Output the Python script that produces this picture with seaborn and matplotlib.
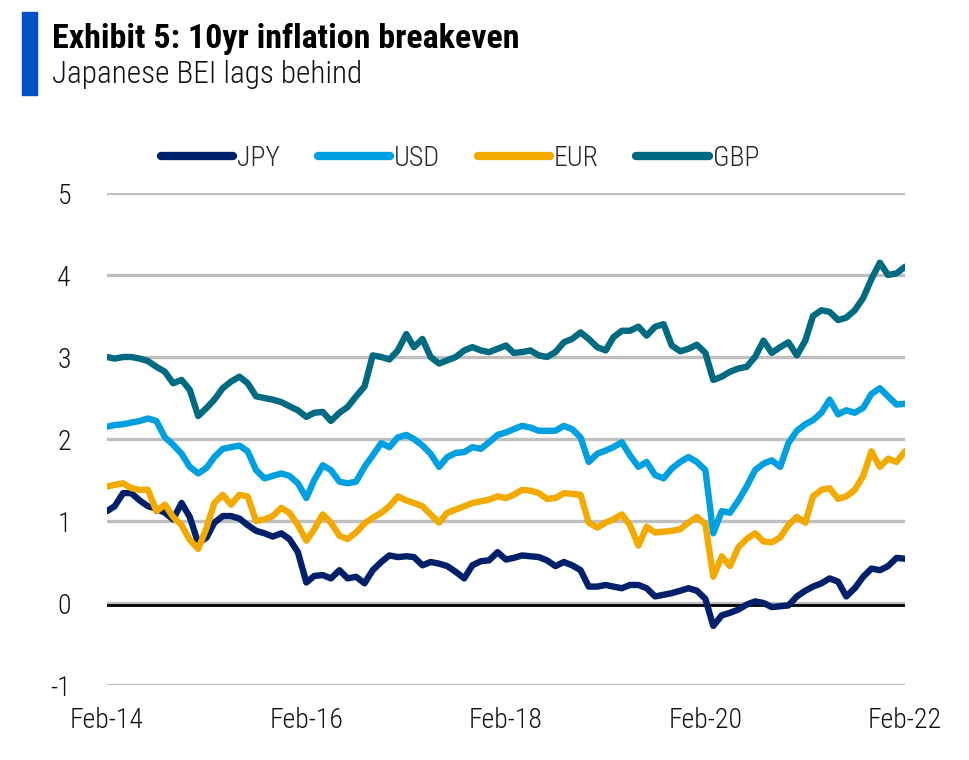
import matplotlib
matplotlib.use("Agg")
import matplotlib.pyplot as plt
import matplotlib.dates as mdates
import matplotlib.transforms as mtransforms
from matplotlib.patches import Rectangle
import seaborn as sns
import pandas as pd
import numpy as np

# ---- data (monthly, Feb-14 .. Feb-22) ----
months = pd.date_range("2014-02-01", "2022-02-01", freq="MS")

jpy = [1.12, 1.18, 1.34, 1.34, 1.25, 1.18, 1.15, 1.10, 1.02, 1.22, 1.05, 0.73,
       0.80, 0.98, 1.06, 1.06, 1.03, 0.95, 0.88, 0.85, 0.81, 0.85, 0.78, 0.62,
       0.25, 0.33, 0.34, 0.30, 0.40, 0.30, 0.32, 0.24, 0.40, 0.50, 0.58, 0.56,
       0.57, 0.56, 0.46, 0.50, 0.48, 0.45, 0.38, 0.30, 0.46, 0.51, 0.52, 0.62,
       0.53, 0.55, 0.58, 0.57, 0.56, 0.52, 0.45, 0.50, 0.46, 0.40, 0.20, 0.20,
       0.22, 0.20, 0.18, 0.22, 0.22, 0.18, 0.08, 0.10, 0.12, 0.15, 0.18, 0.15,
       0.05, -0.28, -0.15, -0.12, -0.08, -0.02, 0.02, 0.00, -0.05, -0.04, -0.03, 0.08,
       0.15, 0.20, 0.24, 0.30, 0.26, 0.08, 0.18, 0.32, 0.42, 0.40, 0.45, 0.55,
       0.54]

usd = [2.15, 2.17, 2.18, 2.20, 2.22, 2.25, 2.22, 2.02, 1.93, 1.82, 1.66, 1.58,
       1.65, 1.78, 1.88, 1.90, 1.92, 1.85, 1.62, 1.52, 1.55, 1.58, 1.55, 1.46,
       1.28, 1.50, 1.68, 1.62, 1.48, 1.46, 1.48, 1.66, 1.80, 1.95, 1.90, 2.02,
       2.05, 2.00, 1.92, 1.82, 1.66, 1.78, 1.83, 1.84, 1.90, 1.88, 1.96, 2.05,
       2.08, 2.12, 2.16, 2.14, 2.10, 2.10, 2.10, 2.16, 2.12, 2.02, 1.72, 1.82,
       1.86, 1.90, 1.96, 1.80, 1.66, 1.72, 1.56, 1.52, 1.64, 1.72, 1.78, 1.72,
       1.62, 0.85, 1.12, 1.10, 1.25, 1.42, 1.62, 1.70, 1.74, 1.66, 1.95, 2.10,
       2.18, 2.23, 2.32, 2.48, 2.30, 2.35, 2.32, 2.38, 2.55, 2.62, 2.52, 2.42,
       2.43]

eur = [1.42, 1.44, 1.46, 1.40, 1.38, 1.38, 1.12, 1.20, 1.05, 0.95, 0.77, 0.66,
       0.92, 1.22, 1.32, 1.20, 1.32, 1.30, 1.00, 1.02, 1.06, 1.16, 1.10, 0.95,
       0.76, 0.90, 1.08, 0.98, 0.82, 0.78, 0.86, 0.97, 1.04, 1.10, 1.18, 1.30,
       1.25, 1.22, 1.18, 1.08, 0.98, 1.10, 1.14, 1.18, 1.22, 1.24, 1.26, 1.30,
       1.28, 1.32, 1.38, 1.37, 1.34, 1.27, 1.28, 1.34, 1.33, 1.32, 0.98, 0.92,
       0.98, 1.02, 1.08, 0.95, 0.70, 0.93, 0.86, 0.87, 0.88, 0.90, 0.98, 1.05,
       0.96, 0.32, 0.57, 0.45, 0.68, 0.78, 0.85, 0.75, 0.74, 0.80, 0.95, 1.05,
       0.98, 1.30, 1.38, 1.40, 1.27, 1.30, 1.38, 1.55, 1.85, 1.66, 1.76, 1.72,
       1.85]

gbp = [3.00, 2.98, 3.00, 3.00, 2.98, 2.95, 2.88, 2.82, 2.68, 2.72, 2.60, 2.28,
       2.38, 2.48, 2.62, 2.70, 2.76, 2.68, 2.52, 2.50, 2.48, 2.45, 2.40, 2.35,
       2.27, 2.32, 2.33, 2.22, 2.32, 2.39, 2.52, 2.64, 3.02, 3.00, 2.97, 3.08,
       3.28, 3.12, 3.22, 3.00, 2.92, 2.96, 3.00, 3.08, 3.12, 3.08, 3.06, 3.10,
       3.14, 3.05, 3.06, 3.08, 3.02, 3.00, 3.06, 3.18, 3.22, 3.30, 3.22, 3.12,
       3.08, 3.24, 3.32, 3.32, 3.37, 3.26, 3.37, 3.40, 3.14, 3.07, 3.10, 3.15,
       3.05, 2.72, 2.76, 2.82, 2.86, 2.88, 3.00, 3.20, 3.05, 3.12, 3.18, 3.02,
       3.20, 3.50, 3.57, 3.55, 3.45, 3.48, 3.57, 3.72, 3.95, 4.15, 4.00, 4.02,
       4.10]

series_names = ["JPY", "USD", "EUR", "GBP"]
colors = ["#002169", "#009FDF", "#F2A900", "#006A80"]
y_ticks = [-1, 0, 1, 2, 3, 4, 5]
x_tick_years = [2014, 2016, 2018, 2020, 2022]

df = pd.DataFrame({"date": months, "JPY": jpy, "USD": usd, "EUR": eur, "GBP": gbp})
long = df.melt(id_vars="date", var_name="series", value_name="value")

# ---- styling ----
sns.set_style("white")
plt.rcParams["font.family"] = ["Roboto Condensed", "Liberation Sans Narrow",
                               "Roboto", "DejaVu Sans"]
plt.rcParams["font.stretch"] = "condensed"

fig = plt.figure(figsize=(9.7, 7.6), dpi=100)
ax = fig.add_axes([107 / 970, 1 - 685 / 760, (905 - 107) / 970, (685 - 193) / 760])

sns.lineplot(data=long, x="date", y="value", hue="series", hue_order=series_names,
             palette=dict(zip(series_names, colors)), linewidth=4.6, ax=ax,
             legend=True, zorder=3)
for ln in ax.get_lines():
    ln.set_solid_capstyle("round")
    ln.set_solid_joinstyle("round")

ax.set_ylim(-1, 5)
ax.set_xlim(pd.Timestamp("2014-02-01"), pd.Timestamp("2022-02-01"))
ax.set_yticks(y_ticks)
ax.set_yticklabels([str(v) for v in y_ticks])
ax.set_xticks([pd.Timestamp(f"{y}-02-01") for y in x_tick_years])
ax.xaxis.set_major_formatter(mdates.DateFormatter("%b-%y"))
ax.set_xlabel("")
ax.set_ylabel("")

for v in y_ticks:
    ax.axhline(v, color="#BFBFBF", lw=2.4, zorder=1)
off = mtransforms.offset_copy(ax.transData, fig=fig, x=0, y=-2.2, units="dots")
ax.plot([pd.Timestamp("2014-02-01"), pd.Timestamp("2022-02-01")], [0, 0],
        color="black", lw=2.0, transform=off, zorder=2)

for s in ax.spines.values():
    s.set_visible(False)
ax.tick_params(axis="both", length=0, labelsize=20, colors="#111111")
ax.tick_params(axis="y", pad=26)
ax.tick_params(axis="x", pad=16)
for lbl in ax.get_xticklabels() + ax.get_yticklabels():
    lbl.set_fontweight("light")

# legend
handles, labels = ax.get_legend_handles_labels()
for h in handles:
    h.set_linewidth(6)
    h.set_solid_capstyle("round")
leg = ax.legend(handles, labels, loc="center", bbox_to_anchor=(460 / 970, 1 - 158 / 760),
                bbox_transform=fig.transFigure, ncol=4, frameon=False,
                prop={"size": 20, "weight": "light"},
                handlelength=2.6, handletextpad=0.15, columnspacing=1.35)

# title block
fig.patches.append(Rectangle((22 / 970, 1 - 95 / 760), 15 / 970, 83 / 760,
                             transform=fig.transFigure, color="#0050C8"))
fig.text(52 / 970, 1 - 48 / 760, "Exhibit 5: 10yr inflation breakeven",
         fontsize=24.5, fontweight="bold", color="black", va="baseline")
fig.text(52 / 970, 1 - 83 / 760, "Japanese BEI lags behind",
         fontsize=22.5, fontweight="light", color="#111111", va="baseline")

fig.savefig("out.png", dpi=100)
